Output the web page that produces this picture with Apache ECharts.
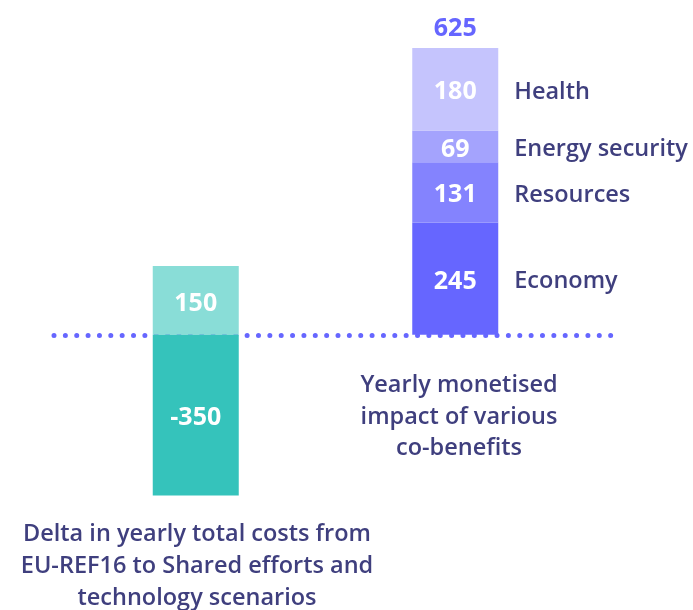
<!DOCTYPE html>
<html>
<head>
<meta charset="utf-8">
<script src="https://cdn.jsdelivr.net/npm/echarts@6/dist/echarts.min.js"></script>
<style>
  html, body { margin: 0; padding: 0; background: #fff; }
  #chart { width: 693px; height: 610px; }
</style>
</head>
<body>
<div id="chart"></div>
<script>
// two columns: cost delta (left) and co-benefits (right)
const columns = ['costs', 'cobenefits'];
const costUp = [150, '-'];
const costDown = [-350, '-'];
const benefitNames = ['Economy', 'Resources', 'Energy security', 'Health'];
const benefitValues = [245, 131, 69, 180];
const costCaption = 'Delta in yearly total costs from\nEU-REF16 to Shared efforts and\ntechnology scenarios';
const benefitCaption = 'Yearly monetised\nimpact of various\nco-benefits';

const benefitTotal = benefitValues.reduce((s, v) => s + v, 0);

const FONT = '"Open Sans", sans-serif';
const NAVY = '#3f3f7e';
const benefitColors = ['#6666ff', '#8483fe', '#a4a3fd', '#c5c4fd'];

const chart = echarts.init(document.getElementById('chart'));

const valueLabel = {
  show: true,
  position: 'inside',
  offset: [0, 3],
  color: '#fff',
  fontFamily: FONT,
  fontSize: 25,
  fontWeight: 'bold'
};

const series = [
  {
    name: 'cost up', type: 'bar', stack: 'all', barWidth: 86,
    data: costUp,
    itemStyle: { color: '#89ddd7' },
    label: valueLabel
  },
  {
    name: 'cost down', type: 'bar', stack: 'all', barWidth: 86,
    data: costDown,
    itemStyle: { color: '#35c3bb' },
    label: valueLabel
  }
];

benefitNames.forEach((name, i) => {
  series.push({
    name: name, type: 'bar', stack: 'all', barWidth: 84,
    data: ['-', benefitValues[i]],
    itemStyle: { color: benefitColors[i] },
    label: valueLabel
  });
  // invisible twin bar just for the name on the right
  series.push({
    name: name + ' label', type: 'bar', stack: 'names', xAxisIndex: 1, barWidth: 84,
    data: ['-', benefitValues[i]],
    itemStyle: { color: 'transparent' },
    silent: true,
    label: {
      show: true,
      position: 'right',
      distance: 17,
      offset: [0, 3],
      formatter: name,
      color: NAVY,
      fontFamily: FONT,
      fontSize: 23.5,
      fontWeight: 600
    },
    markPoint: i === benefitNames.length - 1 ? {
      symbol: 'circle',
      symbolSize: 0,
      label: {
        show: true,
        position: 'top',
        distance: 7,
        color: '#6666ff',
        fontFamily: FONT,
        fontSize: 25,
        fontWeight: 'bold',
        formatter: String(benefitTotal)
      },
      data: [{ coord: [columns[1], benefitTotal], value: benefitTotal }]
    } : undefined
  });
});

const option = {
  animation: false,
  grid: [
    { left: 66, right: 108, top: 13.5, bottom: 91.5 },
    { left: 54, right: 82, top: 13.5, bottom: 91.5 }
  ],
  xAxis: [
    { type: 'category', data: columns, gridIndex: 0, show: false },
    { type: 'category', data: columns, gridIndex: 0, show: false },
    {
      type: 'value', gridIndex: 1, min: 0, max: 1,
      axisLine: {
        show: true, onZero: true,
        lineStyle: { color: '#6666ff', width: 5, type: [0.01, 11.35], cap: 'round' }
      },
      axisTick: { show: false },
      axisLabel: { show: false },
      splitLine: { show: false }
    }
  ],
  yAxis: [
    { type: 'value', gridIndex: 0, min: -400, max: 700, show: false },
    { type: 'value', gridIndex: 1, min: -400, max: 700, show: false }
  ],
  series: series,
  graphic: [
    {
      type: 'text',
      style: {
        text: costCaption, x: 197, y: 566,
        textAlign: 'center', textVerticalAlign: 'middle',
        fill: NAVY, font: '600 23.5px ' + FONT, lineHeight: 32
      }
    },
    {
      type: 'text',
      style: {
        text: benefitCaption, x: 459, y: 417,
        textAlign: 'center', textVerticalAlign: 'middle',
        fill: NAVY, font: '600 23.5px ' + FONT, lineHeight: 31.5
      }
    }
  ]
};

chart.setOption(option);
</script>
</body>
</html>
